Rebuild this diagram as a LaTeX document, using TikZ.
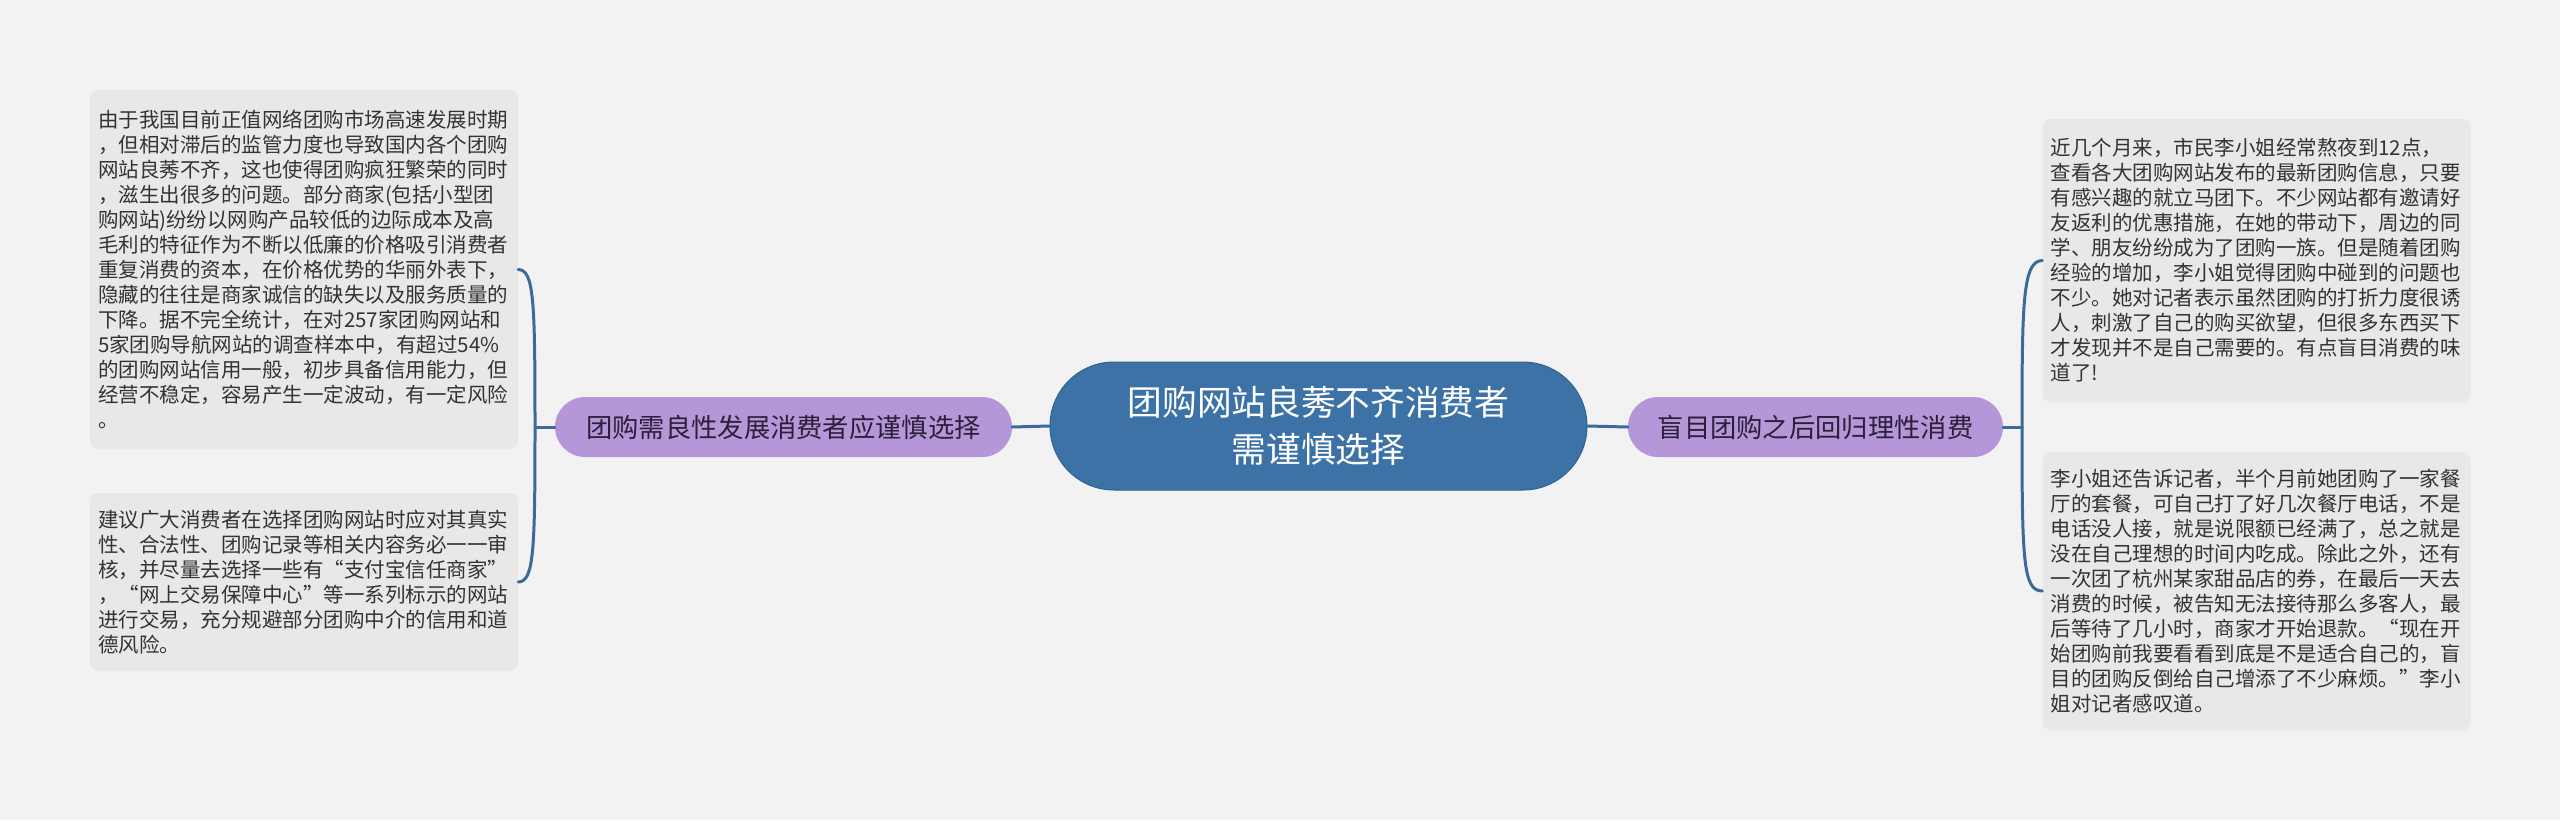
\documentclass[tikz,border=0pt]{standalone}
\usepackage{fontspec}
\newfontfamily\cjk{Noto Sans CJK SC}
\definecolor{bgc}{HTML}{F2F2F2}
\definecolor{boxc}{HTML}{E8E8E8}
\definecolor{txtc}{HTML}{333333}
\definecolor{mainc}{HTML}{3C72A5}
\definecolor{mainb}{HTML}{31628F}
\definecolor{pillc}{HTML}{B596D8}
\definecolor{pilltxt}{HTML}{2B1F3A}
\definecolor{linec}{HTML}{3A6B9B}
\tikzset{
  leafbox/.style={fill=boxc, rounded corners=8pt, text=txtc, align=left,
    text width=412pt, inner xsep=8pt, inner ysep=0pt,
    font=\cjk\fontsize{20.5}{25}\selectfont},
  pillbox/.style={fill=pillc, rounded corners=30pt, text=pilltxt,
    minimum height=60pt, inner xsep=0pt, inner ysep=0pt,
    font=\cjk\fontsize{26.3}{30}\selectfont},
  rootbox/.style={fill=mainc, draw=mainb, line width=1pt, rounded corners=64pt,
    text=white, align=center, minimum width=537pt, minimum height=128pt,
    font=\cjk\fontsize{34.7}{47}\selectfont},
  conn/.style={draw=linec, line width=3pt, line cap=round}
}
\begin{document}
\begin{tikzpicture}[x=1pt,y=-1pt]
\useasboundingbox (0,0) rectangle (2560,820);
\fill[bgc] (0,0) rectangle (2560,820);

\node[rootbox] (root) at (1318.5,426) {团购网站良莠不齐消费者\\需谨慎选择};

\node[pillbox, minimum width=457pt] (lpill) at (783.5,427) {团购需良性发展消费者应谨慎选择};
\node[pillbox, minimum width=375pt] (rpill) at (1815.5,427) {盲目团购之后回归理性消费};

\node[leafbox, minimum height=359pt] (lt) at (304,269.5) {由于我国目前正值网络团购市场高速发展时期\\
，但相对滞后的监管力度也导致国内各个团购\\
网站良莠不齐，这也使得团购疯狂繁荣的同时\\
，滋生出很多的问题。部分商家(包括小型团\\
购网站)纷纷以网购产品较低的边际成本及高\\
毛利的特征作为不断以低廉的价格吸引消费者\\
重复消费的资本，在价格优势的华丽外表下，\\
隐藏的往往是商家诚信的缺失以及服务质量的\\
下降。据不完全统计，在对257家团购网站和\\
5家团购导航网站的调查样本中，有超过54\%\\
的团购网站信用一般，初步具备信用能力，但\\
经营不稳定，容易产生一定波动，有一定风险\\
。};

\node[leafbox, minimum height=178pt] (lb) at (304,582) {建议广大消费者在选择团购网站时应对其真实\\
性、合法性、团购记录等相关内容务必一一审\\
核，并尽量去选择一些有“支付宝信任商家”\\
，“网上交易保障中心”等一系列标示的网站\\
进行交易，充分规避部分团购中介的信用和道\\
德风险。};

\node[leafbox, minimum height=283pt] (rt) at (2256.5,260.5) {近几个月来，市民李小姐经常熬夜到12点，\\
查看各大团购网站发布的最新团购信息，只要\\
有感兴趣的就立马团下。不少网站都有邀请好\\
友返利的优惠措施，在她的带动下，周边的同\\
学、朋友纷纷成为了团购一族。但是随着团购\\
经验的增加，李小姐觉得团购中碰到的问题也\\
不少。她对记者表示虽然团购的打折力度很诱\\
人，刺激了自己的购买欲望，但很多东西买下\\
才发现并不是自己需要的。有点盲目消费的味\\
道了!};

\node[leafbox, minimum height=278pt] (rb) at (2256.5,591) {李小姐还告诉记者，半个月前她团购了一家餐\\
厅的套餐，可自己打了好几次餐厅电话，不是\\
电话没人接，就是说限额已经满了，总之就是\\
没在自己理想的时间内吃成。除此之外，还有\\
一次团了杭州某家甜品店的券，在最后一天去\\
消费的时候，被告知无法接待那么多客人，最\\
后等待了几小时，商家才开始退款。“现在开\\
始团购前我要看看到底是不是适合自己的，盲\\
目的团购反倒给自己增添了不少麻烦。”李小\\
姐对记者感叹道。};

\coordinate (lj) at (535,427);
\coordinate (rj) at (2022,427);

\draw[conn] (root.west) -- (lpill.east);
\draw[conn] (root.east) -- (rpill.west);
\draw[conn] (lpill.west) -- (lj);
\draw[conn] (rpill.east) -- (rj);
\draw[conn] (lj) .. controls (535,300) and (534,270) .. (lt.east);
\draw[conn] (lj) .. controls (535,550) and (534,582) .. (lb.east);
\draw[conn] (rj) .. controls (2022,300) and (2023,261) .. (rt.west);
\draw[conn] (rj) .. controls (2022,560) and (2023,591) .. (rb.west);
\end{tikzpicture}
\end{document}
